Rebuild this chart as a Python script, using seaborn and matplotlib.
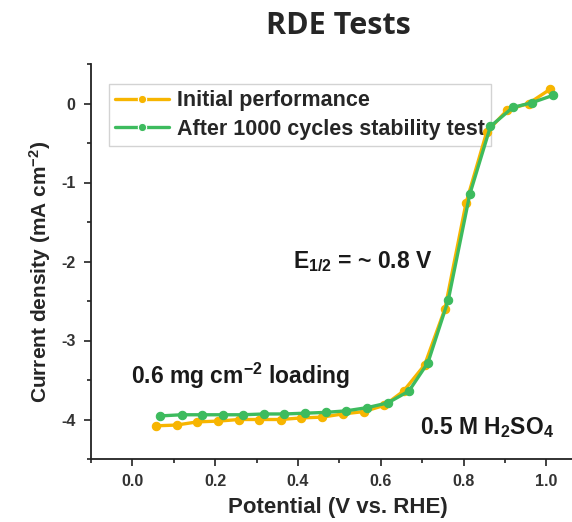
import numpy as np
import pandas as pd
import matplotlib
matplotlib.use("Agg")
import matplotlib.pyplot as plt
import seaborn as sns
from matplotlib.ticker import MultipleLocator

# ---- data ----
x_initial = [0.058, 0.107, 0.157, 0.208, 0.258, 0.307, 0.358, 0.408, 0.458, 0.508,
             0.559, 0.609, 0.655, 0.706, 0.755, 0.806, 0.856, 0.906, 0.957, 1.009]
y_initial = [-4.08, -4.07, -4.03, -4.02, -4.00, -4.00, -4.00, -3.98, -3.97, -3.93,
             -3.90, -3.82, -3.64, -3.31, -2.60, -1.26, -0.36, -0.08, 0.00, 0.18]
x_after = [0.066, 0.119, 0.168, 0.218, 0.266, 0.319, 0.367, 0.417, 0.467, 0.517,
           0.567, 0.617, 0.668, 0.714, 0.763, 0.815, 0.865, 0.919, 0.965, 1.017]
y_after = [-3.955, -3.94, -3.94, -3.94, -3.94, -3.93, -3.93, -3.92, -3.91, -3.89,
           -3.85, -3.79, -3.64, -3.28, -2.49, -1.15, -0.29, -0.05, 0.01, 0.105]
series_names = ["Initial performance", "After 1000 cycles stability test"]
colors = ["#F7B500", "#3DBB5E"]
x_ticks = [0.0, 0.2, 0.4, 0.6, 0.8, 1.0]
y_ticks = [0, -1, -2, -3, -4]

df = pd.concat([
    pd.DataFrame({"Potential": x_initial, "Current": y_initial, "Series": series_names[0]}),
    pd.DataFrame({"Potential": x_after, "Current": y_after, "Series": series_names[1]}),
], ignore_index=True)

sns.set_theme(style="ticks")
plt.rcParams["font.family"] = ["Liberation Sans", "DejaVu Sans"]
plt.rcParams["font.weight"] = "bold"
plt.rcParams["mathtext.fontset"] = "custom"
plt.rcParams["mathtext.rm"] = "Liberation Sans:bold"
plt.rcParams["mathtext.bf"] = "Liberation Sans:bold"
plt.rcParams["mathtext.it"] = "Liberation Sans:bold"
plt.rcParams["mathtext.default"] = "bf"

fig = plt.figure(figsize=(5.72, 5.22), dpi=100)
ax = fig.add_axes([91/572, (522-459)/522, (572-91)/572, (459-64)/522])

sns.lineplot(data=df, x="Potential", y="Current", hue="Series", palette=colors,
             sort=False, estimator=None, marker="o", markersize=6, linewidth=2.4,
             markeredgewidth=0.8, ax=ax)
for line, c in zip(ax.lines, colors):
    line.set_markeredgecolor(c)
    line.set_zorder(3)

ax.set_xlim(-0.1, 1.062)
ax.set_ylim(-4.5, 0.5)
ax.set_xticks(x_ticks)
ax.set_yticks(y_ticks)
ax.set_xticklabels([f"{v:.1f}" for v in x_ticks])
ax.set_yticklabels([f"{v:d}" for v in y_ticks])
ax.xaxis.set_minor_locator(MultipleLocator(0.1))
ax.yaxis.set_minor_locator(MultipleLocator(0.5))
ax.tick_params(which="major", direction="out", length=5, width=1.2, labelsize=11.5,
               color="#222222", pad=6)
ax.tick_params(which="minor", direction="out", length=3, width=1.2, color="#222222")
for lbl in ax.get_xticklabels() + ax.get_yticklabels():
    lbl.set_fontweight("bold")
    lbl.set_color("#333333")

sns.despine(ax=ax)
for s in ["left", "bottom"]:
    ax.spines[s].set_linewidth(1.3)
    ax.spines[s].set_color("#222222")

ax.set_xlabel("Potential (V vs. RHE)", fontsize=16, fontweight="bold")
ax.set_ylabel(r"Current density (mA cm$^{-2}$)", fontsize=15, fontweight="bold")
ax.xaxis.set_label_coords(0.514, -0.122)
ax.yaxis.set_label_coords(-0.106, 0.473)
ax.xaxis.label.set_va("center")
ax.yaxis.label.set_va("center")

fig.text(338/572, 1 - 26/522, "RDE Tests", ha="center", va="center",
         fontsize=22, fontweight="bold", family=["Open Sans", "DejaVu Sans"])

handles, labels = ax.get_legend_handles_labels()
leg = ax.legend(handles, labels, loc="upper left", bbox_to_anchor=(0.037, 0.95),
                borderaxespad=0, frameon=True, fancybox=False, edgecolor="#c8c8c8",
                prop={"weight": "bold", "size": 15.5}, handlelength=2.5,
                handletextpad=0.35, borderpad=0.3, labelspacing=0.35)
leg.get_frame().set_linewidth(1.0)
leg.set_zorder(2)

ax.text(0.387, -2.0, r"E$_{1/2}$ = ~ 0.8 V", fontsize=16.5, fontweight="bold",
        ha="left", va="center", color="#1a1a1a")
ax.text(-0.004, -3.45, r"0.6 mg cm$^{-2}$ loading", fontsize=16.5, fontweight="bold",
        ha="left", va="center", color="#1a1a1a")
ax.text(0.695, -4.1, r"0.5 M H$_{2}$SO$_{4}$", fontsize=16.5, fontweight="bold",
        ha="left", va="center", color="#1a1a1a")

fig.savefig("out.png", dpi=100)
